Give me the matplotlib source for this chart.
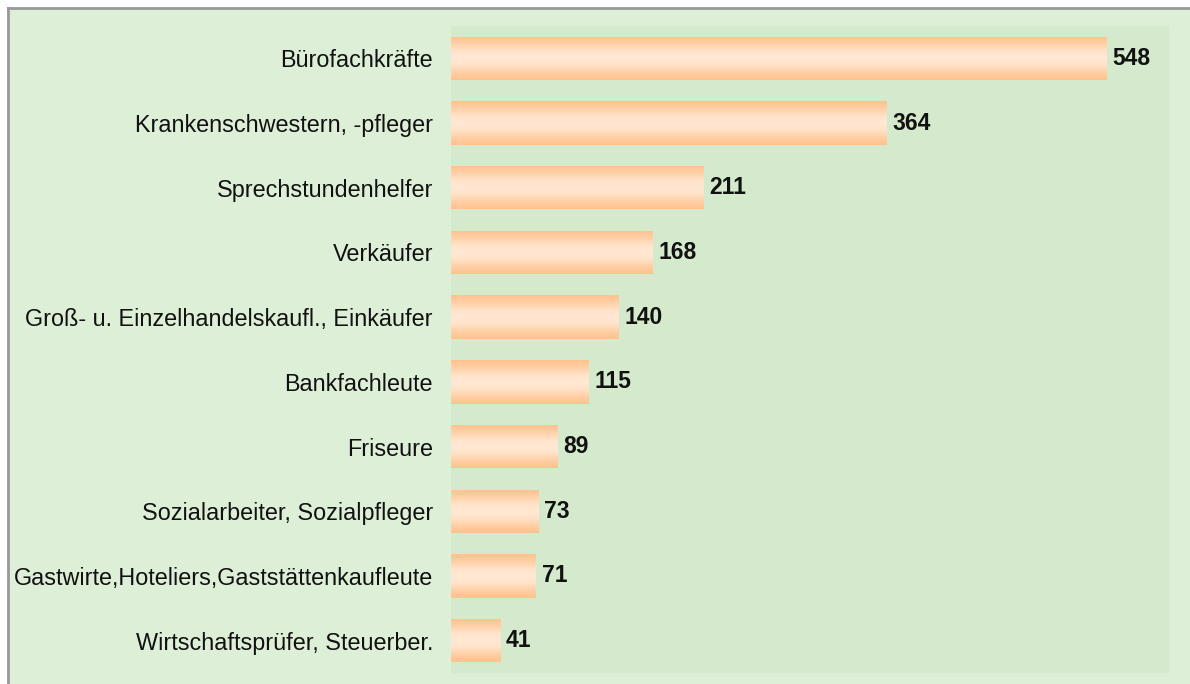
import numpy as np
import matplotlib.pyplot as plt
from matplotlib.colors import LinearSegmentedColormap
from matplotlib.patches import Rectangle

# data (top to bottom as in the chart)
berufe = ['Bürofachkräfte', 'Krankenschwestern, -pfleger', 'Sprechstundenhelfer',
          'Verkäufer', 'Groß- u. Einzelhandelskaufl., Einkäufer', 'Bankfachleute',
          'Friseure', 'Sozialarbeiter, Sozialpfleger',
          'Gastwirte,Hoteliers,Gaststättenkaufleute', 'Wirtschaftsprüfer, Steuerber.']
anzahl = [548, 364, 211, 168, 140, 115, 89, 73, 71, 41]

plt.rcParams['font.family'] = ['Liberation Sans', 'DejaVu Sans']

fig = plt.figure(figsize=(11.9, 6.84), dpi=100)
fig.patch.set_facecolor('white')

# outer frame: light green panel with grey top/left edge
fig.patches.append(Rectangle((7.5 / 1190, 0), 1, 1 - 7.5 / 684, transform=fig.transFigure,
                             facecolor='#DEEFD8', edgecolor='none', zorder=-2))
fig.lines.append(plt.Line2D([7.5 / 1190, 7.5 / 1190], [0, 1 - 7.5 / 684], transform=fig.transFigure,
                            color='#999999', lw=2, zorder=-1))
fig.lines.append(plt.Line2D([7.5 / 1190, 1], [1 - 7.5 / 684, 1 - 7.5 / 684], transform=fig.transFigure,
                            color='#999999', lw=2, zorder=-1))

ax = fig.add_axes([451 / 1190, 1 - 673 / 684, (1169 - 451) / 1190, (673 - 26) / 684])
ax.set_facecolor('#D5E9CD')

y = np.arange(len(berufe))
h = 0.67
bars = ax.barh(y, anzahl, height=h, color='#FFC896', edgecolor='none')

# vertical orange gradient inside each bar
cmap = LinearSegmentedColormap.from_list('bar', [
    (0.0, '#FFC28C'), (0.15, '#FFCDA3'), (0.35, '#FFE3CA'), (0.5, '#FFE8D4'),
    (0.65, '#FFE3CA'), (0.85, '#FFCDA3'), (1.0, '#FFC28C')])
grad = np.linspace(0, 1, 256).reshape(-1, 1)
for bar, val, yi in zip(bars, anzahl, y):
    im = ax.imshow(grad, cmap=cmap, aspect='auto',
                   extent=(0, val, yi + h / 2, yi - h / 2), zorder=2)
    im.set_clip_path(bar)
    ax.text(val + 5, yi, str(val), va='center', ha='left', fontsize=16.5,
            fontweight='bold', color='#111111')

ax.set_xlim(0, 600)
ax.set_ylim(len(berufe) - 0.5, -0.5)
ax.set_yticks(y)
ax.set_yticklabels(berufe, fontsize=16.8, color='#111111')
ax.tick_params(axis='y', length=0, pad=13)
ax.set_xticks([])
for s in ax.spines.values():
    s.set_visible(False)

fig.savefig('out.png', dpi=100)
